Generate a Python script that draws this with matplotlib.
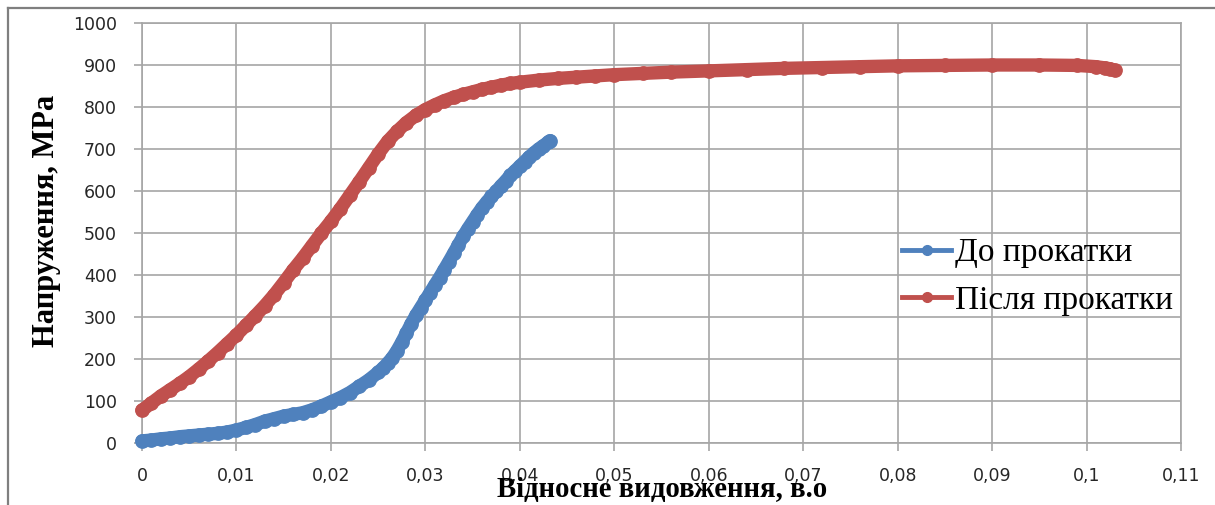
import matplotlib
matplotlib.use("Agg")
import matplotlib.pyplot as plt
from matplotlib.lines import Line2D

# Stress-strain data: before rolling
strain_before = [0, 0.001, 0.002, 0.003, 0.004, 0.005, 0.006, 0.007, 0.008, 0.009,
                 0.010, 0.011, 0.012, 0.013, 0.014, 0.015, 0.016, 0.017, 0.018, 0.019,
                 0.020, 0.021, 0.022, 0.023, 0.024, 0.025, 0.0255, 0.026, 0.0265, 0.027,
                 0.0275, 0.028, 0.0285, 0.029, 0.0295, 0.030, 0.0305, 0.031, 0.0315, 0.032,
                 0.0325, 0.033, 0.0335, 0.034, 0.0345, 0.035, 0.0355, 0.036, 0.0365, 0.037,
                 0.0375, 0.038, 0.0385, 0.039, 0.0395, 0.040, 0.0405, 0.041, 0.0415, 0.042,
                 0.0425, 0.043, 0.0432]
stress_before = [5, 7, 10, 12, 15, 17, 19, 21, 23, 26,
                 31, 37, 44, 52, 58, 64, 68, 72, 79, 88,
                 98, 108, 120, 135, 150, 168, 178, 190, 203, 220,
                 240, 262, 284, 304, 322, 340, 358, 376, 394, 413,
                 432, 452, 472, 492, 510, 527, 544, 560, 574, 587,
                 599, 612, 624, 637, 648, 659, 670, 681, 691, 700,
                 708, 716, 720]

# Stress-strain data: after rolling
strain_after = [0, 0.001, 0.002, 0.003, 0.004, 0.005, 0.006, 0.007, 0.008, 0.009,
                0.010, 0.011, 0.012, 0.013, 0.014, 0.015, 0.016, 0.017, 0.018, 0.019,
                0.020, 0.021, 0.022, 0.023, 0.024, 0.025, 0.026, 0.027, 0.028, 0.029,
                0.030, 0.031, 0.032, 0.033, 0.034, 0.035, 0.036, 0.037, 0.038, 0.039,
                0.040, 0.042, 0.044, 0.046, 0.048, 0.050, 0.053, 0.056, 0.060, 0.064,
                0.068, 0.072, 0.076, 0.080, 0.085, 0.090, 0.095, 0.099, 0.101, 0.102,
                0.1025, 0.103]
stress_after = [78, 95, 112, 127, 142, 158, 176, 195, 215, 236,
                257, 280, 303, 327, 353, 382, 412, 440, 470, 500,
                528, 558, 590, 622, 655, 688, 718, 742, 763, 780,
                794, 805, 815, 823, 830, 836, 842, 847, 852, 856,
                859, 864, 868, 871, 874, 877, 880, 883, 886, 889,
                892, 894, 896, 898, 899, 900, 900, 899, 896, 893,
                891, 887]

series_labels = ["До прокатки", "Після прокатки"]
x_ticks = [0, 0.01, 0.02, 0.03, 0.04, 0.05, 0.06, 0.07, 0.08, 0.09, 0.10, 0.11]
x_tick_labels = ["0", "0,01", "0,02", "0,03", "0,04", "0,05", "0,06", "0,07",
                 "0,08", "0,09", "0,1", "0,11"]
y_ticks = [0, 100, 200, 300, 400, 500, 600, 700, 800, 900, 1000]
x_label = "Відносне видовження, в.о"
y_label = "Напруження, МРа"

blue = "#4F81BD"
red = "#C0504D"
grid_c = "#A6A6A6"

W, H = 1215, 505
fig = plt.figure(figsize=(W / 100, H / 100), dpi=100)
fig.patch.set_facecolor("white")

# outer frame (top and left edges)
fig.add_artist(Line2D([8 / W, 8 / W], [0, 1 - 8 / H], color="#7F7F7F", lw=1.6,
                      transform=fig.transFigure))
fig.add_artist(Line2D([8 / W, 1], [1 - 8 / H, 1 - 8 / H], color="#7F7F7F", lw=1.6,
                      transform=fig.transFigure))

left, right, top, bottom = 142, 1181, 23, 443
ax = fig.add_axes([left / W, 1 - bottom / H, (right - left) / W, (bottom - top) / H])

for xs, ys, c in [(strain_before, stress_before, blue), (strain_after, stress_after, red)]:
    ax.plot(xs, ys, color=c, lw=9.6, solid_capstyle="round", solid_joinstyle="round",
            marker="o", ms=9.6, mec=c, mfc=c, clip_on=False, zorder=3)

ax.set_xlim(0, 0.11)
ax.set_ylim(0, 1000)
ax.set_xticks(x_ticks)
ax.set_xticklabels(x_tick_labels)
ax.set_yticks(y_ticks)

ax.grid(True, color=grid_c, lw=1.2)
ax.set_axisbelow(True)
for s in ax.spines.values():
    s.set_color(grid_c)
    s.set_linewidth(1.2)
ax.tick_params(axis="both", direction="out", color=grid_c, width=1.2, length=6,
               labelsize=12.5, labelcolor="#262626")
ax.tick_params(axis="x", pad=11)
ax.tick_params(axis="y", pad=12)
for lbl in ax.get_xticklabels() + ax.get_yticklabels():
    lbl.set_fontfamily("DejaVu Sans")

fig.text(662 / W, 1 - 497 / H, x_label, ha="center", va="baseline",
         fontsize=20.7, fontweight="bold", family="Liberation Serif", color="black")
fig.text(47 / W, 1 - 221 / H, y_label, ha="center", va="center", rotation=90,
         fontsize=22, fontweight="bold", family="Liberation Serif", color="black")

handles = [Line2D([], [], color=blue, lw=3.5, marker="o", ms=7),
           Line2D([], [], color=red, lw=3.5, marker="o", ms=7)]
ax.legend(handles, series_labels, loc="upper left",
          bbox_to_anchor=(902 / W, 1 - 238 / H), bbox_transform=fig.transFigure,
          frameon=False, borderpad=0, borderaxespad=0, handlelength=1.47,
          handletextpad=0.12, labelspacing=0.5,
          prop={"family": "Liberation Serif", "size": 24})

fig.savefig("out.png", dpi=100)
